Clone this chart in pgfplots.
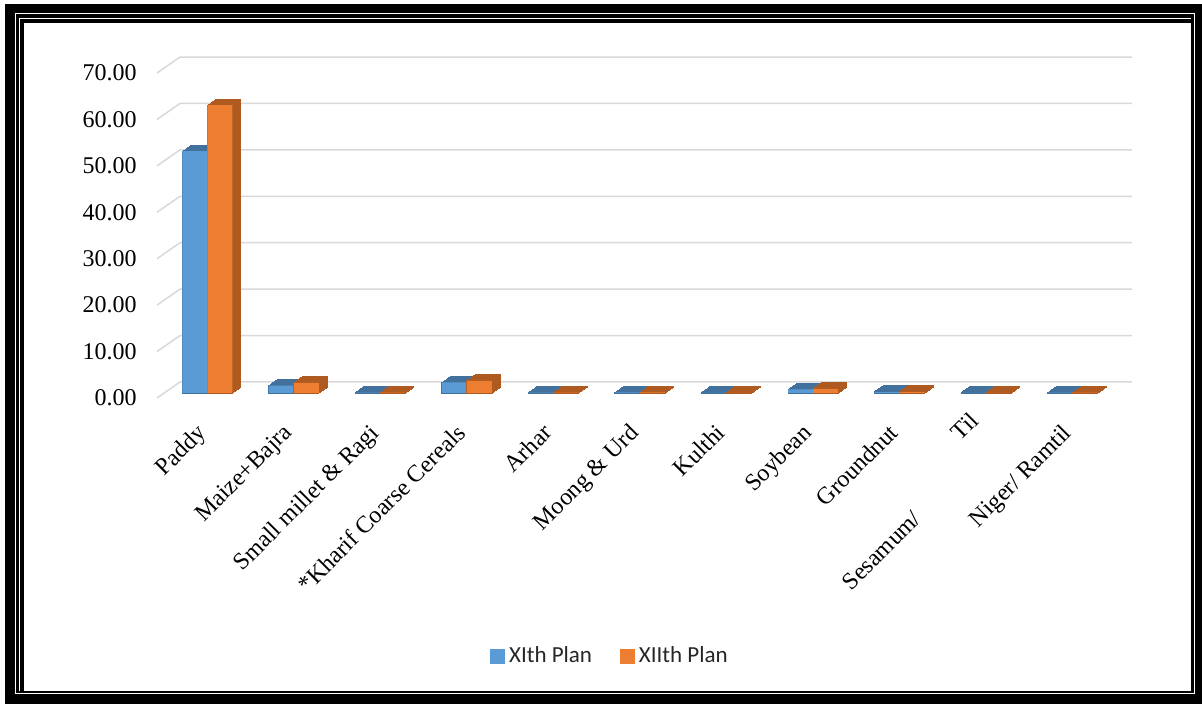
\documentclass[border=0pt]{standalone}
\usepackage{fontspec}
\setmainfont{Liberation Serif}
\newfontfamily\legendfont{Carlito}
\usepackage{pgfplots}
\usepackage{pgfplotstable}
\pgfplotsset{compat=1.18}
\definecolor{bfront}{HTML}{5B9BD5}
\definecolor{bdark}{HTML}{41719C}
\definecolor{ofront}{HTML}{ED7D31}
\definecolor{odark}{HTML}{AE5A21}
\definecolor{gridc}{HTML}{D9D9D9}
\definecolor{legtext}{HTML}{262626}
\pgfplotstableread{
x xi xii
0 52.1 62.0
1 1.6 2.2
2 0.1 0.1
3 2.3 2.6
4 0.1 0.1
5 0.15 0.15
6 0.05 0.05
7 0.8 0.9
8 0.2 0.2
9 0.05 0.05
10 0.1 0.1
}\datatable
\begin{document}
\begin{tikzpicture}
% frame
\fill[white] (0pt,0pt) rectangle (601pt,352pt);
\fill[black] (2.5pt,0pt) rectangle (601pt,350pt);
\draw[white, line width=0.5pt] (7.5pt,5pt) rectangle (597pt,345pt);
\draw[white, line width=0.5pt] (9.5pt,6.5pt) -- (9.5pt,342.75pt) -- (595.5pt,342.75pt);
\fill[white] (12pt,6.5pt) rectangle (595.5pt,340.5pt);
\begin{axis}[
  at={(82pt,155.5pt)}, anchor=south west,
  scale only axis, width=476pt, height=162.5pt,
  xmin=-0.5, xmax=10.5, ymin=0, ymax=70,
  axis line style={draw=none}, tick style={draw=none},
  xtick={0,1,2,3,4,5,6,7,8,9,10},
  xticklabels={Paddy, Maize+Bajra, Small millet \& Ragi, *Kharif Coarse Cereals, Arhar, Moong \& Urd, Kulthi, Soybean, Groundnut, {}, Niger/ Ramtil},
  ytick={0,10,20,30,40,50,60,70},
  yticklabels={0.00,10.00,20.00,30.00,40.00,50.00,60.00,70.00},
  ticklabel style={font=\fontsize{12}{14.4}\selectfont},
  yticklabel style={anchor=east, inner sep=0pt, xshift=-13.5pt, yshift=-2.5pt},
  xticklabel style={xshift=-6pt, yshift=-14.5pt, rotate=45, anchor=north east, inner sep=0pt, align=left},
  clip=false,
  legend style={at={(0.4695,-0.809)}, anchor=center, draw=none, fill=none,
    font=\legendfont\fontsize{11.5}{13}\selectfont, text=legtext,
    /tikz/every even column/.append style={column sep=12pt}},
  legend columns=2,
]
\pgfplotsinvokeforeach{0,10,20,30,40,50,60,70}{
  \draw[gridc, line width=0.75pt] ([xshift=-3.5pt,yshift=-2.5pt]axis cs:-0.5,#1) -- ([xshift=8pt,yshift=5.5pt]axis cs:-0.5,#1) -- ([xshift=8pt,yshift=5.5pt]axis cs:10.5,#1);
}
% XIth Plan: depth (top/side) then front face
\pgfplotsinvokeforeach{0,1,2,3,4,5,6}{
  \addplot[ybar, bar width=12.5pt, bar shift=-6.25pt, xshift=#1*0.7083pt, yshift=#1*0.5pt, fill=bdark, draw=bdark, line width=0.6pt, forget plot] table[x=x, y=xi] {\datatable};
}
\addplot[ybar, bar width=12.5pt, bar shift=-6.25pt, fill=bfront, draw=none, forget plot] table[x=x, y=xi] {\datatable};
% XIIth Plan
\pgfplotsinvokeforeach{0,1,2,3,4,5,6}{
  \addplot[ybar, bar width=12.5pt, bar shift=6.25pt, xshift=#1*0.7083pt, yshift=#1*0.5pt, fill=odark, draw=odark, line width=0.6pt, forget plot] table[x=x, y=xii] {\datatable};
}
\addplot[ybar, bar width=12.5pt, bar shift=6.25pt, fill=ofront, draw=none, forget plot] table[x=x, y=xii] {\datatable};
\node[font=\fontsize{12}{14.4}\selectfont, xshift=-9pt, yshift=-8.5pt, rotate=45, anchor=north east, inner sep=0pt, align=left] at (axis cs:9,0) {\hspace*{91.5pt}Til\\Sesamum/};
\addlegendimage{legend image code/.code={\fill[bfront] (0pt,-3.5pt) rectangle (7pt,3.5pt);}}
\addlegendentry{XIth Plan}
\addlegendimage{legend image code/.code={\fill[ofront] (0pt,-3.5pt) rectangle (7pt,3.5pt);}}
\addlegendentry{XIIth Plan}
\end{axis}
\pgfresetboundingbox
\path (0pt,0pt) rectangle (601pt,352pt);
\end{tikzpicture}
\end{document}
